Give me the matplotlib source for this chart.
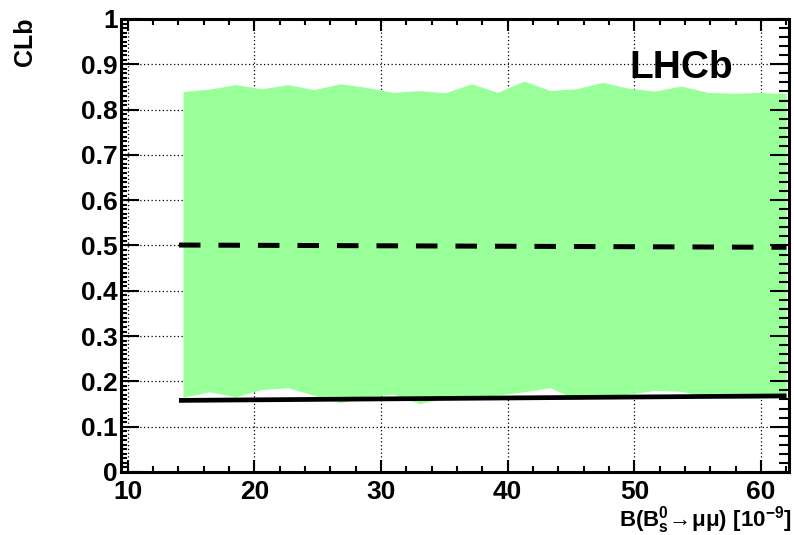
import numpy as np
import matplotlib
matplotlib.use("Agg")
import matplotlib.pyplot as plt
from matplotlib.ticker import MultipleLocator

plt.rcParams['font.family'] = ['Liberation Sans', 'DejaVu Sans']
plt.rcParams['font.weight'] = 'bold'
plt.rcParams['mathtext.fontset'] = 'custom'
plt.rcParams['mathtext.rm'] = 'Liberation Sans:bold'
plt.rcParams['mathtext.bf'] = 'Liberation Sans:bold'
plt.rcParams['mathtext.it'] = 'Liberation Sans:bold'

# expected CLb band (1 sigma) vs branching fraction
br = np.linspace(14.37, 61.98, 24)
band_hi = [0.840, 0.845, 0.855, 0.846, 0.855, 0.844, 0.857, 0.849,
           0.838, 0.842, 0.837, 0.857, 0.838, 0.863, 0.842, 0.846,
           0.860, 0.847, 0.841, 0.852, 0.838, 0.836, 0.838, 0.835]
band_lo = [0.165, 0.177, 0.166, 0.182, 0.186, 0.169, 0.153, 0.166,
           0.172, 0.151, 0.162, 0.166, 0.170, 0.177, 0.186, 0.160,
           0.166, 0.172, 0.180, 0.178, 0.165, 0.163, 0.163, 0.164]

# expected median and observed
line_x = [14.05, 62.0]
expected = [0.501, 0.496]
observed = [0.158, 0.168]

fig = plt.figure(figsize=(7.94, 5.35), dpi=100)
ax = fig.add_axes([0.152, 0.1178, 0.8417, 0.8467])

ax.fill_between(br, band_lo, band_hi, color='#99ff99', lw=0, zorder=2)
ax.plot(line_x, expected, color='black', lw=3.6, dashes=(4.3, 3.6),
        solid_capstyle='butt', dash_capstyle='butt', zorder=3)
ax.plot(line_x, observed, color='black', lw=3.4, solid_capstyle='butt',
        zorder=3)

ax.set_xlim(9.45, 62.2)
ax.set_ylim(0, 1)
ax.set_axisbelow(True)
ax.grid(True, which='major', color='black', linestyle=(0, (1, 2)), lw=0.9)

ax.xaxis.set_major_locator(MultipleLocator(10))
ax.xaxis.set_minor_locator(MultipleLocator(2))
ax.yaxis.set_major_locator(MultipleLocator(0.1))
ax.yaxis.set_minor_locator(MultipleLocator(0.01))
ax.set_yticks(np.round(np.arange(0, 1.01, 0.1), 1))
ax.set_yticklabels(['0', '0.1', '0.2', '0.3', '0.4', '0.5', '0.6', '0.7',
                    '0.8', '0.9', '1'])

for s in ax.spines.values():
    s.set_linewidth(2.2)

ax.tick_params(axis='both', which='both', direction='in', width=1.5,
               labelsize=19)
ax.tick_params(axis='x', which='major', length=8.6, top=True, pad=5.5)
ax.tick_params(axis='x', which='minor', length=4.3, top=True)
ax.tick_params(axis='y', which='major', length=13, right=False, pad=2)
ax.tick_params(axis='y', which='minor', length=4.3, right=False)

# right axis has coarser minor ticks
ax2 = ax.twinx()
ax2.set_ylim(0, 1)
ax2.yaxis.set_major_locator(MultipleLocator(0.1))
ax2.yaxis.set_minor_locator(MultipleLocator(0.02))
ax2.tick_params(axis='y', which='major', direction='in', length=14,
                width=1.5, labelright=False)
ax2.tick_params(axis='y', which='minor', direction='in', length=7,
                width=1.5)
for s in ax2.spines.values():
    s.set_visible(False)

for lab in ax.get_xticklabels() + ax.get_yticklabels():
    lab.set_fontweight('bold')

ax.text(0.916, 0.870, 'LHCb', transform=ax.transAxes, ha='right',
        va='baseline', fontsize=28, fontweight='bold')

fig.text(0.997, 0.015, r'$\mathrm{B(B_{s}^{0}\!\rightarrow\!\mu\mu)\ [10^{-9}]}$',
         ha='right', va='baseline', fontsize=16)
fig.text(0.032, 0.968, 'CLb', rotation=90, ha='center', va='top',
         fontsize=18, fontweight='bold')

fig.savefig('out.png', dpi=100)
